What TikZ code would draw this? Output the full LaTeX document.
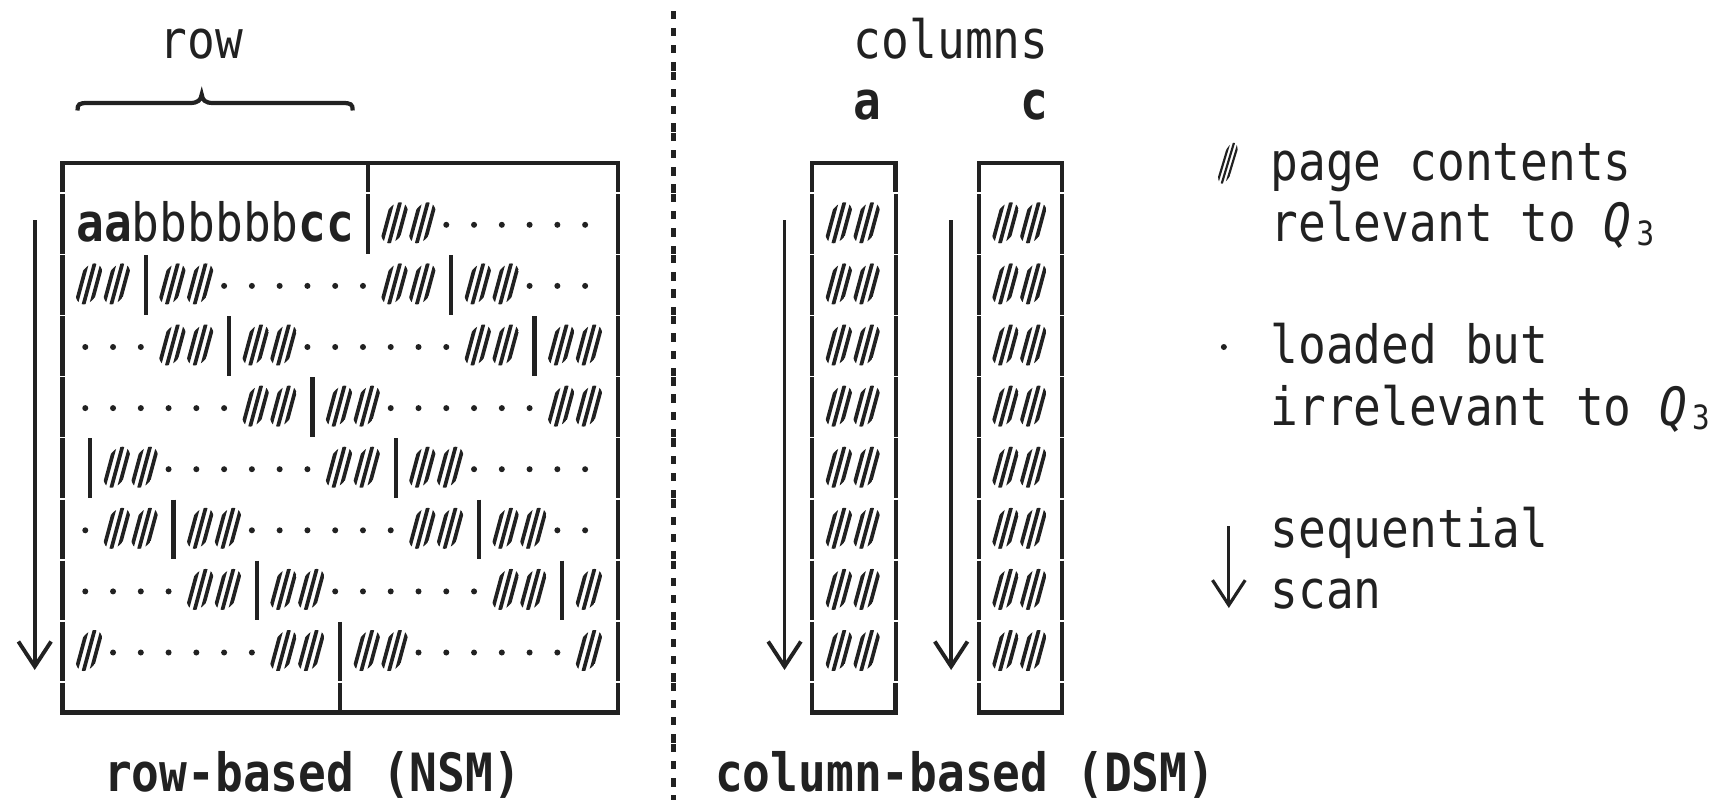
\documentclass[tikz,border=0pt]{standalone}
\usepackage{fontspec}
\newfontfamily\gridfont[FakeStretch=0.875]{DejaVu Sans Mono}
\usetikzlibrary{arrows.meta}
\newcommand\gcw{27.77}
\newcommand\gxo{62.5}
\newcommand\glh{61.1}
\newcommand\gyo{40.5}
\newcommand\gcx[1]{(\gxo+(#1)*\gcw)}
\newcommand\gcy[1]{(\gyo+(#1)*\glh)}
\newcommand\gbx[1]{(\gxo+(#1-0.5)*\gcw)}
\newcommand\gby[1]{(\gyo+(#1)*\glh+17.9)}
\newcommand\gridh[2]{\pic at ({\gcx{#1}-1.2},{\gcy{#2}-1}) {hatchcell};}
\newcommand\gridd[2]{\fill ({\gcx{#1}-5},{\gcy{#2}+1}) circle[radius=3];}
\newcommand\gridv[2]{\draw[gbar] ({\gcx{#1}},{\gcy{#2}-29.75}) -- ({\gcx{#1}},{\gcy{#2}+29.75});}
\newcommand\gridt[2]{}
\newcommand\gridrow[3]{\foreach \code [count=\i from #2] in {#3} {\csname grid\code\endcsname{\i}{#1}}}
\tikzset{
  gtxt/.style={anchor=base west, inner sep=0pt, outer sep=0pt, text=black!87, font=\gridfont\fontsize{15}{18}\selectfont},
  gsub/.style={anchor=base, inner sep=0pt, outer sep=0pt, text=black!87, font=\gridfont\fontsize{9.5}{10}\selectfont},
  gbar/.style={line width=1.2pt, draw=black!87},
  frame/.style={line width=1.25pt, draw=black!87, line join=miter},
  scanarrow/.style={line width=1.1pt, draw=black!87, -{Straight Barb[length=7.1pt,width=9.3pt]}},
  hatchcell/.pic={
    \begin{scope}[xslant=0.27]
      \clip (0,0) ellipse [x radius=12.5, y radius=20.5];
      \foreach \d in {-7.6,0,7.6} \draw[line width=1.05pt, black!87] (\d,-22) -- (\d,22);
    \end{scope}
  },
  legendhatch/.pic={
    \begin{scope}[xslant=0.3]
      \clip (0,0) ellipse [x radius=7.5, y radius=20.5];
      \foreach \d in {-4.6,0,4.6} \draw[line width=0.62pt, black!87] (\d,-22) -- (\d,22);
    \end{scope}
  }
}
\begin{document}
\begin{tikzpicture}[x=0.01cm,y=-0.01cm]
\useasboundingbox (0,0) rectangle (1718,800);
\fill[white] (0,0) rectangle (1718,800);
\begin{scope}[black!87]
% ---------- labels on top ----------
\node[gtxt] (lbl-row) at ({\gbx{4}},{\gby{0}}) {row};
\draw[line width=1.2pt, black!87] (77.5,110.5) .. controls (77.5,104) and (79,103) .. (88,103) -- (190,103)
  .. controls (198,103) and (201,100) .. (201.7,94.5)
  .. controls (202.4,100) and (205,103) .. (213,103) -- (342,103)
  .. controls (351,103) and (352.7,104) .. (352.7,110.5);
\node[gtxt] (lbl-columns) at ({\gbx{29}},{\gby{0}}) {columns};
\node[gtxt] (lbl-a) at ({\gbx{29}},{\gby{1}}) {\bfseries a};
\node[gtxt] (lbl-c) at ({\gbx{35}},{\gby{1}}) {\bfseries c};

% ---------- NSM box ----------
\draw[frame] ({\gcx{0}},{\gcy{2}+29.75}) -- ({\gcx{0}},{\gcy{2}}) -- ({\gcx{20}},{\gcy{2}}) -- ({\gcx{20}},{\gcy{2}+29.75});
\draw[gbar] ({\gcx{11}},{\gcy{2}}) -- ({\gcx{11}},{\gcy{2}+29.75});
\draw[frame] ({\gcx{0}},{\gcy{11}-29.75}) -- ({\gcx{0}},{\gcy{11}}) -- ({\gcx{20}},{\gcy{11}}) -- ({\gcx{20}},{\gcy{11}-29.75});
\draw[gbar] ({\gcx{10}},{\gcy{11}-29.75}) -- ({\gcx{10}},{\gcy{11}});

\node[gtxt] (row0) at ({\gbx{1}},{\gby{3}}) {\textbf{aa}bbbbbb\textbf{cc}};
\gridrow{3}{0}{v,t,t,t,t,t,t,t,t,t,t,v,h,h,d,d,d,d,d,d,v}
\gridrow{4}{0}{v,h,h,v,h,h,d,d,d,d,d,d,h,h,v,h,h,d,d,d,v}
\gridrow{5}{0}{v,d,d,d,h,h,v,h,h,d,d,d,d,d,d,h,h,v,h,h,v}
\gridrow{6}{0}{v,d,d,d,d,d,d,h,h,v,h,h,d,d,d,d,d,d,h,h,v}
\gridrow{7}{0}{v,v,h,h,d,d,d,d,d,d,h,h,v,h,h,d,d,d,d,d,v}
\gridrow{8}{0}{v,d,h,h,v,h,h,d,d,d,d,d,d,h,h,v,h,h,d,d,v}
\gridrow{9}{0}{v,d,d,d,d,h,h,v,h,h,d,d,d,d,d,d,h,h,v,h,v}
\gridrow{10}{0}{v,h,d,d,d,d,d,d,h,h,v,h,h,d,d,d,d,d,d,h,v}

% ---------- DSM boxes ----------
\foreach \L/\R in {27/30,33/36}{
  \draw[frame] ({\gcx{\L}},{\gcy{2}+29.75}) -- ({\gcx{\L}},{\gcy{2}}) -- ({\gcx{\R}},{\gcy{2}}) -- ({\gcx{\R}},{\gcy{2}+29.75});
  \draw[frame] ({\gcx{\L}},{\gcy{11}-29.75}) -- ({\gcx{\L}},{\gcy{11}}) -- ({\gcx{\R}},{\gcy{11}}) -- ({\gcx{\R}},{\gcy{11}-29.75});
}
\foreach \n in {3,...,10}{
  \gridrow{\n}{27}{v,h,h,v}
  \gridrow{\n}{33}{v,h,h,v}
}

% ---------- scan arrows ----------
\foreach \c/\nm in {-1/nsm,26/dsma,32/dsmc}{
  \coordinate (\nm-s) at ({\gcx{\c}},220);
  \coordinate (\nm-e) at ({\gcx{\c}},670);
  \draw[scanarrow] (\nm-s) -- (\nm-e);
}

% ---------- separator ----------
\foreach \n in {0,...,12}{
  \foreach \k in {0,...,3}{
    \fill ({\gcx{22}-2.15},{\gcy{\n}-30.55+0.7+\k*17.2}) rectangle ++(4.3,8.3);
  }
}

% ---------- legend ----------
\pic at ({\gcx{42}-1},{\gcy{2}+0.5}) {legendhatch};
\node[gtxt] (leg1a) at ({\gbx{44}},{\gby{2}}) {page contents};
\node[gtxt] (leg1b) at ({\gbx{44}},{\gby{3}}) {relevant to \textit{Q}};
\node[gsub] (leg1s) at ({\gcx{57}},{\gby{3}+4}) {3};
\fill ({\gcx{42}-5},{\gcy{5}+1}) circle[radius=3];
\node[gtxt] (leg2a) at ({\gbx{44}},{\gby{5}}) {loaded but};
\node[gtxt] (leg2b) at ({\gbx{44}},{\gby{6}}) {irrelevant to \textit{Q}};
\node[gsub] (leg2s) at ({\gcx{59}},{\gby{6}+4}) {3};
\coordinate (leg3-s) at ({\gcx{42}},526);
\coordinate (leg3-e) at ({\gcx{42}},608);
\draw[scanarrow, line width=0.9pt] (leg3-s) -- (leg3-e);
\node[gtxt] (leg3a) at ({\gbx{44}},{\gby{8}}) {sequential};
\node[gtxt] (leg3b) at ({\gbx{44}},{\gby{9}}) {scan};

% ---------- bottom labels ----------
\node[gtxt] (cap-nsm) at ({\gbx{2}},{\gby{12}}) {\bfseries row-based (NSM)};
\node[gtxt] (cap-dsm) at ({\gbx{24}},{\gby{12}}) {\bfseries column-based (DSM)};
\end{scope}
\end{tikzpicture}
\end{document}
